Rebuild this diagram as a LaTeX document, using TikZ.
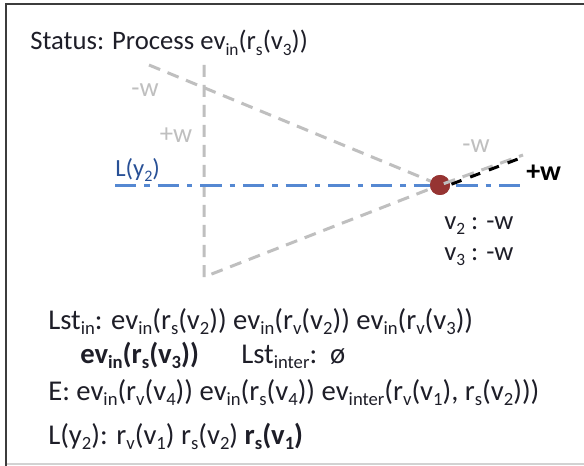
\documentclass[tikz,border=0pt]{standalone}
\usepackage{graphicx}
\usepackage{fontspec}
\usetikzlibrary{calc}
\setmainfont{Carlito}
\newcommand\sbx[1]{\raisebox{-0.2em}{\scalebox{0.65}{#1}}}
\definecolor{txt}{RGB}{30,30,40}
\definecolor{lgrey}{RGB}{191,191,191}
\definecolor{lblue}{RGB}{85,136,210}
\definecolor{dblue}{RGB}{40,80,150}
\definecolor{dotred}{RGB}{150,52,50}
\definecolor{frame}{RGB}{60,60,60}
\tikzset{
  greydash/.style={draw=lgrey, line width=2.25pt, dash pattern=on 9pt off 6pt},
  blackdash/.style={draw=black, line width=2.25pt, dash pattern=on 9pt off 6pt},
  bluedashdot/.style={draw=lblue, line width=2.25pt, dash pattern=on 16pt off 6pt on 4pt off 6pt},
  txtnode/.style={anchor=base west, inner sep=0pt, text=txt},
  lbl/.style={inner sep=0pt, font=\fontsize{20}{22}\selectfont},
}
\begin{document}
\begin{tikzpicture}[x=0.75pt,y=-0.75pt]
\useasboundingbox (0,0) rectangle (584,466);
\fill[white] (0,0) rectangle (584,466);
% frame
\coordinate (ftl) at (6,4);
\coordinate (ftr) at (584,4);
\coordinate (fbl) at (6,466);
\coordinate (fb1) at (6,464);
\coordinate (fb2) at (584,464);
\draw[draw=lgrey!70, line width=1pt] (fb1) -- (fb2);
\draw[draw=frame, line width=1.3pt] (fbl) -- (ftl) -- (ftr);
% title
\node[txtnode, font=\fontsize{20}{22}\selectfont] (title) at (30,50) {Status: Process ev\sbx{in}(r\sbx{s}(v\sbx{3}))};
% geometry
\coordinate (vt) at (204,65);
\coordinate (vb) at (204,277);
\coordinate (ul) at (149,65);
\coordinate (ur) at (523,155);
\coordinate (urb) at (518,159);
\coordinate (bs) at (444,187);
\coordinate (bl) at (115,186);
\coordinate (br) at (525,186);
\node[circle, fill=dotred, minimum size=15pt, inner sep=0pt] (dot) at (440,185) {};
\draw[greydash] (vt) -- (vb) -- (dot.center);
\draw[greydash] (ul) -- (dot.center);
\draw[bluedashdot] (bl) -- (br);
\node[circle, fill=dotred, minimum size=15pt, inner sep=0pt] (dot2) at (dot.center) {};
\draw[greydash, dash phase=-3pt] (dot.center) -- (ur);
\draw[blackdash, dash pattern=on 8pt off 7pt, dash phase=-6pt] (bs) -- (urb);
% labels
\node[lbl, text=lgrey] (mw1) at (145,90) {-w};
\node[lbl, text=lgrey] (pw1) at (176,135) {+w};
\node[lbl, text=dblue, anchor=base west, font=\fontsize{18.5}{20}\selectfont] (ly) at (115,177) {L(y\sbx{2})};
\node[lbl, text=lgrey] (mw2) at (476,146) {-w};
\node[lbl, text=black, anchor=west, font=\fontsize{21}{22}\selectfont\bfseries] (pw2) at (526,173) {+w};
\node[lbl, text=txt, anchor=base west] (v2) at (444,229) {v\sbx{2} : -w};
\node[lbl, text=txt, anchor=base west] (v3) at (444,260) {v\sbx{3} : -w};
% bottom text
\begin{scope}[every node/.style={txtnode, font=\fontsize{21.5}{23}\selectfont}]
\node (l1) at (48,329) {Lst\sbx{in}: ev\sbx{in}(r\sbx{s}(v\sbx{2})) ev\sbx{in}(r\sbx{v}(v\sbx{2})) ev\sbx{in}(r\sbx{v}(v\sbx{3}))};
\node (l2a) at (80,363) {\textbf{ev\sbx{in}(r\sbx{s}(v\sbx{3}))}};
\node (l2b) at (241,363) {Lst\sbx{inter}:~~ø};
\node (l3) at (48,400) {E: ev\sbx{in}(r\sbx{v}(v\sbx{4})) ev\sbx{in}(r\sbx{s}(v\sbx{4})) ev\sbx{inter}(r\sbx{v}(v\sbx{1}), r\sbx{s}(v\sbx{2})))};
\node (l4) at (48,444) {L(y\sbx{2}): r\sbx{v}(v\sbx{1}) r\sbx{s}(v\sbx{2}) \textbf{r\sbx{s}(v\sbx{1})}};
\end{scope}
\end{tikzpicture}
\end{document}
